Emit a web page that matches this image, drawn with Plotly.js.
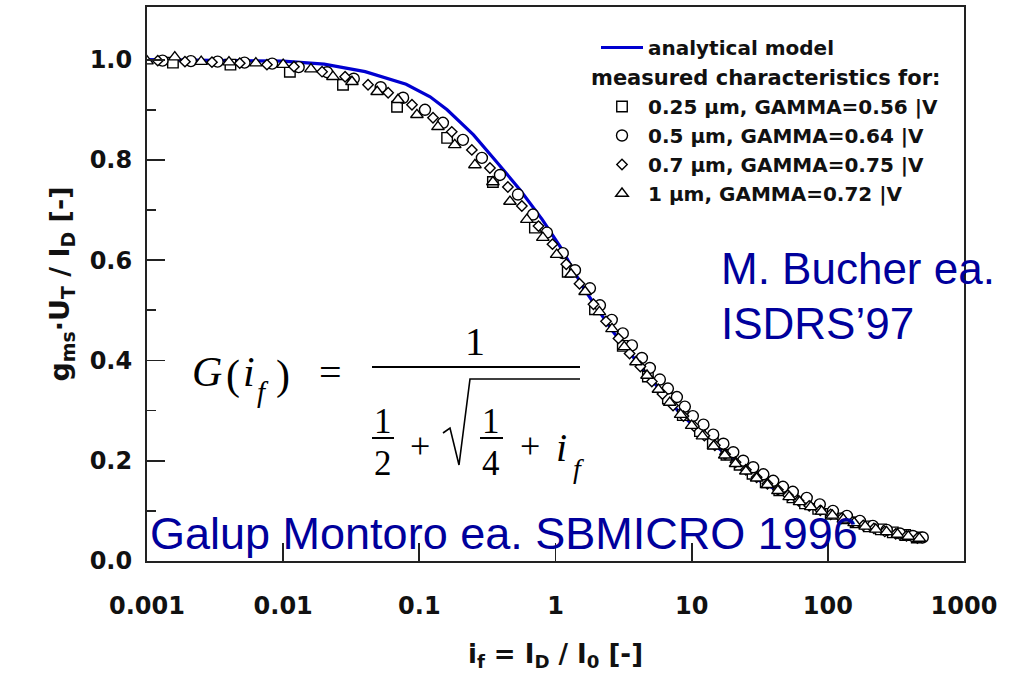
<!DOCTYPE html>
<html>
<head>
<meta charset="utf-8">
<script src="https://cdn.plot.ly/plotly-3.0.1.min.js"></script>
<style>
  html, body { margin: 0; padding: 0; background: #fff; }
  #chart { width: 1019px; height: 676px; }
</style>
</head>
<body>
<div id="chart"></div>
<script>
// Normalised transconductance g_ms*U_T/I_D versus inversion coefficient i_f

// analytical model
const ifModel = [0.001, 0.002, 0.005, 0.01, 0.02, 0.04, 0.08, 0.12, 0.16, 0.25, 0.37, 0.55, 0.8, 1.1, 1.6, 2.6, 4.7, 8.2, 15, 30, 60, 100, 200, 300, 500];
const gModel  = [1.000, 0.999, 0.998, 0.997, 0.991, 0.976, 0.951, 0.926, 0.900, 0.850, 0.796, 0.740, 0.681, 0.624, 0.545, 0.460, 0.372, 0.295, 0.230, 0.163, 0.120, 0.094, 0.066, 0.054, 0.044];

// 0.25 um device
const if025 = [0.00155, 0.0041, 0.0112, 0.0275, 0.0686, 0.16, 0.347, 0.706, 1.23, 1.95, 3.12, 4.77, 6.69, 8.61, 11.5, 14.3, 18.0, 22.5, 28, 35, 44, 55, 68, 85, 105, 130, 160, 200, 245, 300, 370, 450];
const g025  = [0.994, 0.990, 0.976, 0.950, 0.906, 0.844, 0.756, 0.665, 0.577, 0.502, 0.429, 0.368, 0.324, 0.291, 0.259, 0.235, 0.212, 0.192, 0.174, 0.157, 0.141, 0.127, 0.115, 0.104, 0.094, 0.085, 0.077, 0.069, 0.063, 0.057, 0.052, 0.047];

// 0.5 um device
const if05 = [0.0013, 0.0021, 0.0033, 0.0052, 0.0083, 0.013, 0.021, 0.033, 0.052, 0.076, 0.11, 0.149, 0.209, 0.288, 0.391, 0.53, 0.683, 0.865, 1.13, 1.39, 1.79, 2.12, 2.59, 3.12, 3.64, 4.31, 4.93, 5.84, 6.69, 7.79, 8.91, 10.2, 12.2, 14.4, 17.1, 20.2, 23.9, 28.3, 33.6, 39.7, 46.8, 55.3, 70, 87.3, 109, 138, 172, 214, 271, 338, 421, 498];
const g05  = [0.998, 0.997, 0.996, 0.994, 0.992, 0.985, 0.975, 0.962, 0.945, 0.924, 0.900, 0.874, 0.840, 0.804, 0.770, 0.731, 0.691, 0.655, 0.614, 0.580, 0.544, 0.510, 0.481, 0.454, 0.430, 0.405, 0.385, 0.362, 0.344, 0.327, 0.308, 0.289, 0.272, 0.252, 0.234, 0.217, 0.200, 0.187, 0.173, 0.160, 0.148, 0.138, 0.126, 0.113, 0.100, 0.090, 0.080, 0.070, 0.062, 0.055, 0.050, 0.047];

// 0.7 um device
const if07 = [0.0012, 0.0019, 0.003, 0.0048, 0.0076, 0.012, 0.0193, 0.0285, 0.042, 0.059, 0.0883, 0.126, 0.173, 0.243, 0.33, 0.447, 0.566, 0.75, 0.95, 1.2, 1.5, 1.9, 2.35, 2.9, 3.5, 4.2, 5.1, 6.1, 7.3, 8.7, 10.4, 12.4, 14.8, 17.6, 21, 25, 30, 36, 43, 51, 61, 73, 88, 105, 126, 152, 182, 218, 262, 315, 378, 455];
const g07  = [0.998, 0.996, 0.995, 0.993, 0.990, 0.986, 0.976, 0.966, 0.950, 0.934, 0.910, 0.884, 0.856, 0.820, 0.784, 0.746, 0.708, 0.668, 0.632, 0.592, 0.553, 0.512, 0.478, 0.444, 0.414, 0.388, 0.358, 0.333, 0.310, 0.289, 0.269, 0.250, 0.231, 0.213, 0.197, 0.182, 0.167, 0.154, 0.142, 0.131, 0.120, 0.110, 0.101, 0.093, 0.085, 0.078, 0.071, 0.065, 0.059, 0.054, 0.050, 0.046];

// 1 um device
const if1 = [0.001, 0.0016, 0.0025, 0.004, 0.0063, 0.01, 0.016, 0.0232, 0.032, 0.049, 0.0697, 0.096, 0.137, 0.182, 0.256, 0.347, 0.463, 0.616, 0.807, 1.02, 1.3, 1.65, 2.1, 2.6, 3.2, 3.9, 4.7, 5.7, 6.9, 8.3, 10, 12, 14.5, 17.5, 21, 25, 30, 36, 43, 52, 62, 75, 90, 108, 130, 156, 188, 225, 270, 325, 390, 470];
const g1  = [0.997, 1.005, 0.996, 0.995, 0.993, 0.990, 0.981, 0.966, 0.956, 0.936, 0.920, 0.890, 0.866, 0.830, 0.790, 0.756, 0.717, 0.681, 0.645, 0.611, 0.572, 0.537, 0.497, 0.463, 0.427, 0.397, 0.370, 0.342, 0.316, 0.292, 0.270, 0.249, 0.229, 0.211, 0.194, 0.179, 0.165, 0.152, 0.140, 0.128, 0.118, 0.108, 0.099, 0.091, 0.083, 0.076, 0.069, 0.063, 0.058, 0.053, 0.049, 0.045];

const xTickVals = [0.001, 0.01, 0.1, 1, 10, 100, 1000];
const xTickText = ['0.001', '0.01', '0.1', '1', '10', '100', '1000'];
const yTickVals = [0, 0.2, 0.4, 0.6, 0.8, 1.0];
const yTickText = ['0.0', '0.2', '0.4', '0.6', '0.8', '1.0'];
const yHalfTicks = [0.1, 0.3, 0.5, 0.7, 0.9];
const xLogRange = [-3, 3];
const yRange = [0, 1.105];

const seriesNames = [
  'analytical model',
  '0.25 µm, GAMMA=0.56 |V',
  '0.5 µm, GAMMA=0.64 |V',
  '0.7 µm, GAMMA=0.75 |V',
  '1 µm, GAMMA=0.72 |V'
];

// plot-area geometry in page pixels
const W = 1019, H = 676;
const M = { l: 147, r: 55, t: 7, b: 115 };
const PW = W - M.l - M.r, PH = H - M.t - M.b;
const px = x => (x - M.l) / PW;
const py = y => (H - M.b - y) / PH;

const INK = '#222';
const BLUE_TXT = '#00009c';
const SANS = 'Liberation Sans, Arial, sans-serif';
const WIDE = 'DejaVu Sans, Verdana, sans-serif';
const SERIF = 'Liberation Serif, Times New Roman, serif';

// hollow-looking markers: white fill with a black outline
function openMarker(symbol, size) {
  return { symbol: symbol, size: size, color: '#ffffff', line: { color: '#000000', width: 1.4 } };
}

const traces = [
  { x: ifModel, y: gModel, mode: 'lines', name: seriesNames[0], legendgroup: 'model',
    line: { color: '#0000d0', width: 3.2 } },
  { x: if025, y: g025, mode: 'markers', name: seriesNames[1], legendgroup: 'meas', marker: openMarker('square', 10.5) },
  { x: if05, y: g05, mode: 'markers', name: seriesNames[2], legendgroup: 'meas', marker: openMarker('circle', 11) },
  { x: if07, y: g07, mode: 'markers', name: seriesNames[3], legendgroup: 'meas', marker: openMarker('diamond', 8) },
  { x: if1, y: g1, mode: 'markers', name: seriesNames[4], legendgroup: 'meas', marker: openMarker('triangle-up', 11) }
];

// formula G(i_f) = 1 / (1/2 + sqrt(1/4 + i_f)), assembled from text pieces
function t(text, x, y, size, opts) {
  return Object.assign({
    text: text, x: px(x), y: py(y), xref: 'paper', yref: 'paper',
    xanchor: 'center', yanchor: 'middle', showarrow: false,
    font: { family: SERIF, size: size, color: '#000' }
  }, opts || {});
}
function hline(x0, x1, y, w) {
  return { type: 'line', xref: 'paper', yref: 'paper', x0: px(x0), x1: px(x1), y0: py(y), y1: py(y),
           line: { color: '#000', width: w } };
}

const formula = [
  t('<i>G</i>', 207, 372, 42),
  t('(', 233, 375, 42),
  t('<i>i</i>', 249, 372, 42),
  t('<i>f</i>', 263, 392, 29),
  t(')', 283, 375, 42),
  t('=', 330, 372, 40),
  t('1', 475, 341, 40),
  t('1', 383, 421, 35),
  t('2', 383, 463, 35),
  t('+', 420, 446, 36),
  t('1', 491, 421, 35),
  t('4', 491, 463, 35),
  t('+', 530, 446, 36),
  t('<i>i</i>', 561, 447, 40),
  t('<i>f</i>', 578, 468, 28)
];

const formulaShapes = [
  hline(372, 580, 367, 2),
  hline(372, 394, 438, 2),
  hline(480, 503, 438, 2),
  { type: 'path', xref: 'paper', yref: 'paper',
    path: 'M ' + px(443) + ',' + py(433) + ' L ' + px(450) + ',' + py(428) +
          ' L ' + px(459) + ',' + py(465) + ' L ' + px(470) + ',' + py(379) +
          ' L ' + px(580) + ',' + py(379),
    line: { color: '#000', width: 1.6 } }
];

const labels = [
  { text: 'M. Bucher ea.', x: px(719), y: py(269), xref: 'paper', yref: 'paper', xanchor: 'left', yanchor: 'middle',
    showarrow: false, font: { family: SANS, size: 44, color: BLUE_TXT } },
  { text: 'ISDRS’97', x: px(719), y: py(323), xref: 'paper', yref: 'paper', xanchor: 'left', yanchor: 'middle',
    showarrow: false, font: { family: SANS, size: 44, color: BLUE_TXT } },
  { text: 'Galup Montoro ea. SBMICRO 1996', x: px(148), y: py(533), xref: 'paper', yref: 'paper', xanchor: 'left', yanchor: 'middle',
    showarrow: false, font: { family: SANS, size: 45, color: BLUE_TXT } },
  { text: 'measured characteristics for:', x: px(589), y: py(78), xref: 'paper', yref: 'paper', xanchor: 'left', yanchor: 'middle',
    showarrow: false, font: { family: WIDE, size: 21, color: '#111', weight: 'bold' } }
];

const layout = {
  width: W, height: H,
  margin: M,
  paper_bgcolor: '#fff', plot_bgcolor: '#fff',
  font: { family: WIDE, color: '#111' },
  showlegend: true,
  legend: {
    x: px(596), y: py(28), xanchor: 'left', yanchor: 'top',
    bgcolor: 'rgba(0,0,0,0)', borderwidth: 0,
    traceorder: 'grouped', tracegroupgap: 30, itemwidth: 42,
    font: { family: WIDE, size: 20, color: '#111', weight: 'bold' }
  },
  xaxis: {
    type: 'log', range: xLogRange,
    tickvals: xTickVals, ticktext: xTickText,
    ticks: 'inside', ticklen: 18, tickwidth: 1.8, tickcolor: INK,
    showline: true, linecolor: INK, linewidth: 2, mirror: true,
    showgrid: false, zeroline: false,
    ticklabelstandoff: 22,
    tickfont: { family: WIDE, size: 24, color: '#111', weight: 'bold' },
    title: { text: 'i<sub>f</sub> = I<sub>D</sub> / I<sub>0</sub> [-]', standoff: 26,
             font: { family: WIDE, size: 26, color: '#111', weight: 'bold' } }
  },
  yaxis: {
    range: yRange,
    tickvals: yTickVals, ticktext: yTickText,
    ticks: 'inside', ticklen: 18, tickwidth: 1.8, tickcolor: INK,
    minor: { tickvals: yHalfTicks, ticks: 'inside', ticklen: 9, tickwidth: 1.8, tickcolor: INK, showgrid: false },
    showline: true, linecolor: INK, linewidth: 2, mirror: true,
    showgrid: false, zeroline: false,
    ticklabelstandoff: 8,
    tickfont: { family: WIDE, size: 24, color: '#111', weight: 'bold' },
    title: { text: 'g<sub>ms</sub>·U<sub>T</sub> / I<sub>D</sub> [-]', standoff: 12,
             font: { family: WIDE, size: 27, color: '#111', weight: 'bold' } }
  },
  annotations: formula.concat(labels),
  shapes: formulaShapes
};

Plotly.newPlot('chart', traces, layout, { displayModeBar: false, staticPlot: true });
</script>
</body>
</html>
